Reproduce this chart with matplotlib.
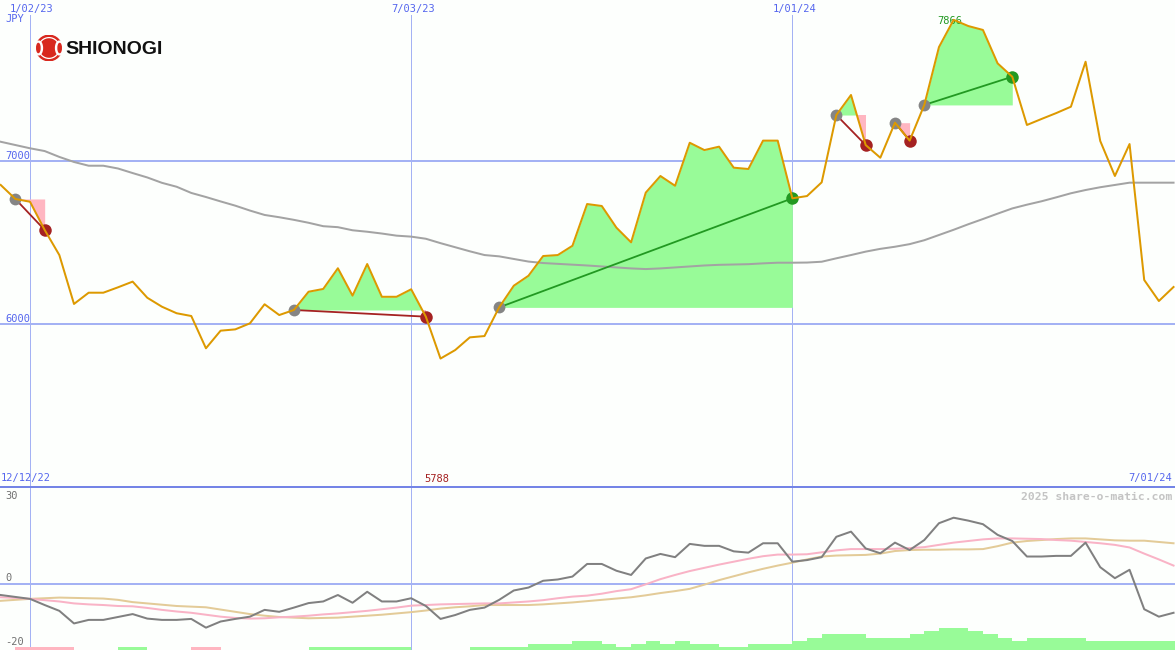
import matplotlib
matplotlib.use('Agg')
import matplotlib.pyplot as plt
import matplotlib.dates as mdates
from matplotlib.patches import Circle, Ellipse
import numpy as np
import pandas as pd

# weekly data, SHIONOGI in JPY
weeks = pd.date_range('2022-12-19', periods=81, freq='7D')

close = [6853, 6767, 6750, 6577, 6423, 6123, 6192, 6192, 6225, 6260,
         6161, 6106, 6066, 6049, 5851, 5959, 5967, 6004, 6121, 6055,
         6086, 6198, 6215, 6342, 6174, 6368, 6167, 6167, 6213, 6045,
         5788, 5840, 5918, 5926, 6102, 6235, 6296, 6417, 6423, 6480,
         6736, 6724, 6591, 6501, 6806, 6908, 6848, 7112, 7067, 7088,
         6959, 6951, 7125, 7125, 6771, 6785, 6869, 7282, 7405, 7098,
         7020, 7235, 7125, 7344, 7699, 7866, 7828, 7804, 7599, 7517,
         7221, 7258, 7294, 7333, 7609, 7123, 6908, 7104, 6270, 6141,
         6227]

ma = [7118, 7098, 7078, 7061, 7025, 6994, 6971, 6971, 6954, 6926,
      6899, 6866, 6842, 6804, 6779, 6752, 6726, 6696, 6669, 6655,
      6639, 6621, 6600, 6594, 6575, 6566, 6555, 6542, 6536, 6523,
      6496, 6471, 6446, 6423, 6415, 6399, 6383, 6374, 6369, 6364,
      6359, 6353, 6347, 6341, 6337, 6341, 6347, 6353, 6359, 6363,
      6365, 6367, 6372, 6376, 6376, 6377, 6382, 6403, 6423, 6444,
      6461, 6474, 6490, 6514, 6546, 6578, 6612, 6644, 6677, 6709,
      6732, 6753, 6777, 6802, 6822, 6839, 6853, 6867, 6867, 6867,
      6867]

osc = [-3.4, -4.0, -4.6, -6.5, -8.3, -12.2, -11.1, -11.1, -10.2, -9.3,
       -10.7, -11.1, -11.1, -10.8, -13.5, -11.6, -10.8, -10.1, -8.0, -8.6,
       -7.3, -5.9, -5.4, -3.4, -5.8, -2.4, -5.4, -5.4, -4.4, -6.8,
       -10.8, -9.6, -8.0, -7.3, -4.9, -2.0, -1.1, 1.0, 1.4, 2.3,
       6.2, 6.2, 4.1, 2.8, 7.9, 9.3, 8.3, 12.4, 11.8, 11.8,
       10.1, 9.7, 12.6, 12.6, 6.9, 7.4, 8.3, 14.6, 16.2, 11.0,
       9.5, 12.8, 10.5, 13.6, 18.8, 20.5, 19.6, 18.5, 15.2, 13.3,
       8.5, 8.5, 8.7, 8.7, 12.8, 5.2, 1.8, 4.4, -7.8, -10.1,
       -8.9]

sig = [-4.1, -4.3, -4.6, -5.0, -5.4, -6.0, -6.3, -6.5, -6.8, -6.9,
       -7.4, -8.0, -8.5, -8.9, -9.5, -10.1, -10.5, -10.7, -10.6, -10.3,
       -10.1, -9.8, -9.4, -9.1, -8.7, -8.3, -7.8, -7.3, -6.7, -6.5,
       -6.3, -6.2, -6.1, -6.0, -6.0, -5.7, -5.4, -5.0, -4.4, -3.9,
       -3.6, -3.0, -2.2, -1.6, -0.1, 1.5, 2.8, 4.0, 5.0, 6.0,
       6.9, 7.8, 8.6, 9.1, 9.1, 9.2, 9.8, 10.4, 10.8, 10.8,
       10.8, 10.9, 11.1, 11.4, 12.1, 12.8, 13.3, 13.8, 14.1, 14.1,
       14.0, 13.9, 13.6, 13.4, 13.0, 12.6, 12.1, 11.3, 9.4, 7.6,
       5.7]

slow = [-5.2, -4.9, -4.6, -4.4, -4.2, -4.3, -4.4, -4.5, -4.9, -5.6,
        -6.0, -6.4, -6.8, -7.0, -7.2, -7.9, -8.6, -9.3, -9.8, -10.2,
        -10.4, -10.6, -10.5, -10.4, -10.1, -9.8, -9.5, -9.1, -8.7, -8.2,
        -7.6, -7.2, -6.9, -6.5, -6.5, -6.5, -6.5, -6.3, -6.0, -5.7,
        -5.3, -4.9, -4.5, -4.1, -3.5, -2.8, -2.2, -1.5, -0.2, 1.2,
        2.4, 3.6, 4.7, 5.7, 6.6, 7.6, 8.5, 8.8, 8.9, 9.0,
        9.4, 10.2, 10.5, 10.6, 10.6, 10.7, 10.7, 10.8, 11.7, 12.8,
        13.3, 13.6, 13.9, 14.1, 14.1, 13.8, 13.5, 13.4, 13.4, 13.0,
        12.6]

# histogram blocks at the foot of the lower panel (negative = pink)
bars = [0, -1, -1, -1, -1, 0, 0, 0, 1, 1,
        0, 0, 0, -1, -1, 0, 0, 0, 0, 0,
        0, 1, 1, 1, 1, 1, 1, 1, 0, 0,
        0, 0, 1, 1, 1, 1, 2, 2, 2, 3,
        3, 2, 1, 2, 3, 2, 3, 2, 2, 1,
        1, 2, 2, 2, 3, 4, 5, 5, 5, 4,
        4, 4, 5, 6, 7, 7, 6, 5, 4, 3,
        4, 4, 4, 4, 3, 3, 3, 3, 3, 3,
        3]

trades = [(1, 3), (20, 29), (34, 54), (57, 59), (61, 62), (63, 69)]  # (entry week, exit week)

grid_dates = ['2023-01-02', '2023-07-03', '2024-01-01']
grid_labels = ['1/02/23', '7/03/23', '1/01/24']
price_levels = [6000, 7000]
osc_levels = [30, 0, -20]

PX = 0.72  # one pixel in points at 100 dpi
BG = '#fdfffd'
BLUE = '#5566ee'
GRID = '#a4b2f4'
ORANGE = '#dd9900'
GFILL = '#98fb98'
PFILL = '#ffb6c1'
WIN = '#229922'
LOSS = '#a52222'
mono = dict(family='DejaVu Sans Mono', fontsize=7.5)

x = mdates.date2num(weeks)
close = np.array(close, float)

fig = plt.figure(figsize=(11.75, 6.5), dpi=100, facecolor=BG)
ax = fig.add_axes([0, 163 / 650, 1, 487 / 650])
ax2 = fig.add_axes([0, 0, 1, 163 / 650])
for a in (ax, ax2):
    a.set_xlim(x[0] - 0.33, x[0] + 560.7)
    a.set_facecolor(BG)
    a.set_xticks([])
    a.set_yticks([])
    for s in a.spines.values():
        s.set_visible(False)
ax.set_ylim(5000, 7987.7)
ax2.set_ylim(-20.41, 30.0)
ax2.spines['top'].set_visible(True)
ax2.spines['top'].set_color('#7484e6')
ax2.spines['top'].set_linewidth(2 * PX)

# grid
gd = mdates.date2num(pd.to_datetime(grid_dates))
for d, lab in zip(gd, grid_labels):
    ax.axvline(d, ymax=1 - 15 / 487, color=GRID, lw=PX, zorder=1)
    ax2.axvline(d, color=GRID, lw=PX, zorder=1)
    ax.annotate(lab, xy=(d, 1), xycoords=ax.get_xaxis_transform(),
                xytext=(2 * PX, -9 * PX), textcoords='offset points',
                ha='center', va='center', color=BLUE, **mono)
for p in price_levels:
    ax.axhline(p, color=GRID, lw=2 * PX, zorder=1)
    ax.annotate(str(p), xy=(0, p), xycoords=ax.get_yaxis_transform(),
                xytext=(5 * PX, 5 * PX), textcoords='offset points',
                ha='left', va='center', color=BLUE, **mono)
ax2.axhline(0, color=GRID, lw=2 * PX, zorder=1)

ax.annotate('JPY', xy=(0, 1), xycoords='axes fraction', xytext=(5 * PX, -19 * PX),
            textcoords='offset points', ha='left', va='center', color=BLUE, **mono)
ax.annotate('12/12/22', xy=(0, 0), xycoords='axes fraction', xytext=(0.5 * PX, 8.5 * PX),
            textcoords='offset points', ha='left', va='center', color=BLUE, **mono)
ax.annotate('7/01/24', xy=(1, 0), xycoords='axes fraction', xytext=(-3 * PX, 8.5 * PX),
            textcoords='offset points', ha='right', va='center', color=BLUE, **mono)

# trades: fills, links, dots
for e, q in trades:
    seg = slice(e, q + 1)
    lvl = close[e]
    ax.fill_between(x[seg], lvl, close[seg], where=close[seg] >= lvl, interpolate=True,
                    color=GFILL, lw=0, zorder=2)
    ax.fill_between(x[seg], lvl, close[seg], where=close[seg] <= lvl, interpolate=True,
                    color=PFILL, lw=0, zorder=2)
    c = WIN if close[q] > lvl else LOSS
    ax.plot([x[e], x[q]], [lvl, close[q]], color=c, lw=1.3, zorder=4)
    ax.plot(x[e], lvl, 'o', ms=8.5, color='#858585', mec='none', zorder=5)
    ax.plot(x[q], close[q], 'o', ms=9, color=c, mec='none', zorder=5)

ax.plot(x, ma, color='#a3a3a3', lw=2 * PX, zorder=3)
ax.plot(x, close, color=ORANGE, lw=2 * PX, zorder=6)

lo = int(np.argmin(close))
hi = int(np.argmax(close))
ax.annotate(str(int(close[lo])), xy=(x[lo], 0), xycoords=ax.get_xaxis_transform(),
            xytext=(-4 * PX, 8.5 * PX), textcoords='offset points',
            ha='center', va='center', color=LOSS, **mono)
ax.annotate(str(int(close[hi])), xy=(x[hi], close[hi]), xytext=(-4 * PX, -1 * PX),
            textcoords='offset points', ha='center', va='center', color=WIN, **mono)

# lower panel
b = np.array(bars)
ax2.bar(x, np.abs(b) * 0.96, width=7, align='edge', bottom=-20.41,
        color=[GFILL if v > 0 else PFILL for v in b], lw=0, zorder=2)
ax2.plot(x, slow, color='#e3cb98', lw=2 * PX, zorder=3)
ax2.plot(x, sig, color='#f9b3c6', lw=2 * PX, zorder=4)
ax2.plot(x, osc, color='#808080', lw=2 * PX, zorder=5)

offs = {30: -9, 0: 6, -20: 6.5}
for v in osc_levels:
    ax2.annotate(str(v), xy=(0, v), xycoords=ax2.get_yaxis_transform(),
                 xytext=(5 * PX, offs[v] * PX), textcoords='offset points',
                 ha='left', va='center', color='#707070', **mono)
ax2.annotate('2025 share-o-matic.com', xy=(1, 1), xycoords='axes fraction',
             xytext=(-3 * PX, -10 * PX), textcoords='offset points', ha='right', va='center',
             color='#c4c4c4', family='DejaVu Sans Mono', fontsize=8.2, fontweight='bold')

# logo
lg = fig.add_axes([36 / 1175, 1 - 61 / 650, 26 / 1175, 26 / 650])
lg.set_xlim(-1, 1)
lg.set_ylim(-1, 1)
lg.axis('off')
lg.add_patch(Circle((0, 0), 0.98, color='#d8281e'))
lg.add_patch(Circle((0, 0), 0.8, fill=False, ec='white', lw=0.9))
lg.add_patch(Ellipse((-0.78, 0), 0.55, 1.05, color='white'))
lg.add_patch(Ellipse((0.78, 0), 0.55, 1.05, color='white'))
lg.add_patch(Ellipse((-0.82, 0), 0.25, 0.7, color='#d8281e'))
lg.add_patch(Ellipse((0.82, 0), 0.25, 0.7, color='#d8281e'))
fig.text(65 / 1175, 1 - 49 / 650, 'SHIONOGI', family='Liberation Sans', fontsize=14,
         fontweight='bold', color='#111111', ha='left', va='center')

fig.savefig('out.png', dpi=100, facecolor=BG)
